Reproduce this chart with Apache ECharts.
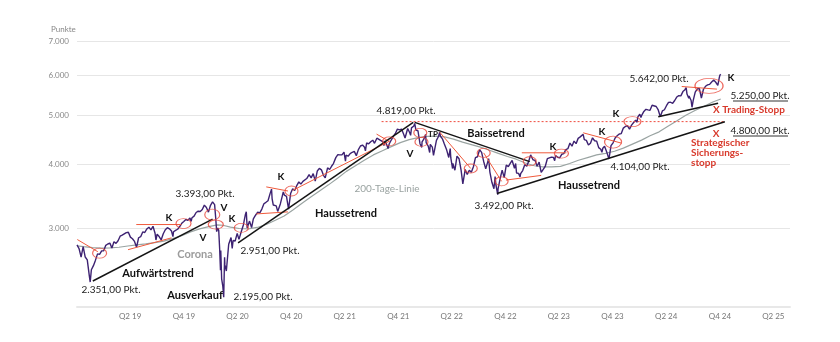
<!DOCTYPE html>
<html><head><meta charset="utf-8">
<script src="https://cdn.jsdelivr.net/npm/echarts@6/dist/echarts.min.js"></script>
<style>html,body{margin:0;padding:0;background:#fff}#c{width:840px;height:342px}</style>
</head><body><div id="c"></div>
<script>
// ---------- DATA ----------
const indexValues = [
["2018-11-09",2781],["2018-11-16",2736],["2018-11-23",2633],["2018-11-30",2760],["2018-12-07",2633],["2018-12-14",2600],["2018-12-21",2417],["2018-12-24",2351],["2018-12-28",2486],
["2019-01-04",2532],["2019-01-11",2596],["2019-01-18",2671],["2019-01-25",2665],["2019-02-01",2707],["2019-02-08",2708],["2019-02-15",2776],["2019-02-22",2793],["2019-03-01",2804],["2019-03-08",2743],["2019-03-15",2822],["2019-03-22",2801],["2019-03-29",2834],["2019-04-05",2893],["2019-04-12",2907],["2019-04-18",2905],["2019-04-26",2940],["2019-05-03",2946],["2019-05-10",2881],["2019-05-17",2860],["2019-05-24",2826],["2019-05-31",2752],["2019-06-03",2744],["2019-06-07",2873],["2019-06-14",2887],["2019-06-21",2950],["2019-06-28",2942],["2019-07-05",2990],["2019-07-12",3014],["2019-07-19",2977],["2019-07-26",3026],["2019-08-02",2932],["2019-08-05",2844],["2019-08-09",2919],["2019-08-16",2889],["2019-08-23",2847],["2019-08-30",2926],["2019-09-06",2979],["2019-09-13",3007],["2019-09-20",2992],["2019-09-27",2962],["2019-10-02",2887],["2019-10-04",2952],["2019-10-11",2970],["2019-10-18",2986],["2019-10-25",3023],["2019-11-01",3067],["2019-11-08",3093],["2019-11-15",3120],["2019-11-22",3110],["2019-11-29",3141],["2019-12-03",3093],["2019-12-06",3146],["2019-12-13",3169],["2019-12-20",3221],["2019-12-27",3240],
["2020-01-03",3235],["2020-01-10",3265],["2020-01-17",3330],["2020-01-24",3295],["2020-01-31",3226],["2020-02-07",3328],["2020-02-14",3380],["2020-02-19",3393],["2020-02-21",3338],["2020-02-25",3128],["2020-02-28",2954],["2020-03-03",3003],["2020-03-06",2972],["2020-03-09",2747],["2020-03-12",2481],["2020-03-13",2711],["2020-03-16",2386],["2020-03-18",2398],["2020-03-20",2305],["2020-03-23",2195],["2020-03-26",2630],["2020-03-27",2541],["2020-04-01",2471],["2020-04-03",2489],["2020-04-09",2790],["2020-04-17",2875],["2020-04-21",2737],["2020-04-24",2837],["2020-05-01",2831],["2020-05-08",2930],["2020-05-14",2852],["2020-05-22",2955],["2020-05-29",3044],["2020-06-05",3194],["2020-06-08",3232],["2020-06-11",3002],["2020-06-19",3098],["2020-06-26",3009],["2020-07-02",3130],["2020-07-10",3185],["2020-07-17",3224],["2020-07-24",3216],["2020-07-31",3271],["2020-08-07",3351],["2020-08-14",3373],["2020-08-21",3397],["2020-08-28",3508],["2020-09-02",3580],["2020-09-04",3427],["2020-09-08",3332],["2020-09-11",3341],["2020-09-18",3319],["2020-09-23",3237],["2020-10-02",3348],["2020-10-09",3477],["2020-10-12",3534],["2020-10-16",3484],["2020-10-23",3465],["2020-10-30",3270],["2020-11-06",3509],["2020-11-13",3585],["2020-11-20",3557],["2020-11-27",3638],["2020-12-04",3699],["2020-12-11",3663],["2020-12-18",3709],["2020-12-24",3703],["2020-12-31",3756],
["2021-01-08",3825],["2021-01-15",3768],["2021-01-22",3841],["2021-01-29",3714],["2021-02-05",3887],["2021-02-12",3934],["2021-02-19",3907],["2021-02-26",3811],["2021-03-04",3768],["2021-03-12",3943],["2021-03-19",3913],["2021-03-26",3975],["2021-04-01",4020],["2021-04-09",4129],["2021-04-16",4185],["2021-04-23",4180],["2021-04-30",4181],["2021-05-07",4233],["2021-05-12",4063],["2021-05-14",4174],["2021-05-21",4156],["2021-05-28",4204],["2021-06-04",4230],["2021-06-11",4247],["2021-06-18",4166],["2021-06-25",4281],["2021-07-02",4352],["2021-07-09",4370],["2021-07-16",4327],["2021-07-19",4258],["2021-07-23",4412],["2021-07-30",4395],["2021-08-06",4437],["2021-08-13",4468],["2021-08-19",4406],["2021-08-27",4509],["2021-09-02",4537],["2021-09-10",4459],["2021-09-17",4433],["2021-09-20",4358],["2021-09-24",4455],["2021-10-01",4357],["2021-10-04",4300],["2021-10-08",4391],["2021-10-15",4471],["2021-10-22",4545],["2021-10-29",4605],["2021-11-05",4697],["2021-11-12",4683],["2021-11-19",4698],["2021-11-26",4595],["2021-11-30",4567],["2021-12-01",4513],["2021-12-03",4538],["2021-12-10",4712],["2021-12-17",4620],["2021-12-20",4568],["2021-12-23",4725],["2021-12-31",4766],
["2022-01-03",4819],["2022-01-07",4677],["2022-01-14",4663],["2022-01-21",4398],["2022-01-24",4410],["2022-01-27",4326],["2022-01-28",4432],["2022-02-04",4500],["2022-02-09",4587],["2022-02-11",4418],["2022-02-18",4349],["2022-02-23",4225],["2022-02-25",4385],["2022-03-04",4329],["2022-03-08",4170],["2022-03-11",4204],["2022-03-18",4463],["2022-03-25",4543],["2022-03-29",4632],["2022-04-01",4546],["2022-04-08",4488],["2022-04-14",4393],["2022-04-22",4272],["2022-04-29",4132],["2022-05-04",4300],["2022-05-06",4123],["2022-05-12",3930],["2022-05-13",4023],["2022-05-20",3901],["2022-05-27",4158],["2022-06-03",4109],["2022-06-10",3901],["2022-06-16",3667],["2022-06-24",3912],["2022-07-01",3825],["2022-07-08",3899],["2022-07-15",3863],["2022-07-22",3962],["2022-07-29",4130],["2022-08-05",4145],["2022-08-12",4280],["2022-08-16",4305],["2022-08-19",4228],["2022-08-26",4058],["2022-09-02",3924],["2022-09-06",3909],["2022-09-12",4110],["2022-09-16",3873],["2022-09-23",3693],["2022-09-30",3586],["2022-10-04",3791],["2022-10-07",3640],["2022-10-13",3492],["2022-10-14",3583],["2022-10-21",3752],["2022-10-28",3901],["2022-11-04",3771],["2022-11-11",3993],["2022-11-18",3965],["2022-11-25",4026],["2022-12-01",4077],["2022-12-09",3934],["2022-12-13",4020],["2022-12-16",3852],["2022-12-23",3845],["2022-12-28",3783],["2022-12-30",3840],
["2023-01-06",3895],["2023-01-13",3999],["2023-01-20",3973],["2023-01-27",4071],["2023-02-02",4180],["2023-02-10",4090],["2023-02-17",4079],["2023-02-24",3970],["2023-03-03",4046],["2023-03-10",3862],["2023-03-13",3856],["2023-03-17",3917],["2023-03-24",3971],["2023-03-31",4109],["2023-04-06",4105],["2023-04-14",4138],["2023-04-21",4133],["2023-04-25",4071],["2023-04-28",4169],["2023-05-05",4136],["2023-05-12",4124],["2023-05-19",4192],["2023-05-26",4205],["2023-06-02",4282],["2023-06-09",4299],["2023-06-16",4410],["2023-06-23",4348],["2023-06-30",4450],["2023-07-07",4399],["2023-07-14",4505],["2023-07-21",4536],["2023-07-31",4589],["2023-08-04",4478],["2023-08-11",4464],["2023-08-18",4370],["2023-08-25",4406],["2023-09-01",4516],["2023-09-08",4457],["2023-09-15",4450],["2023-09-22",4320],["2023-09-29",4288],["2023-10-03",4229],["2023-10-06",4308],["2023-10-12",4349],["2023-10-20",4224],["2023-10-27",4104],["2023-11-03",4358],["2023-11-10",4415],["2023-11-17",4514],["2023-11-24",4559],["2023-12-01",4595],["2023-12-08",4604],["2023-12-15",4719],["2023-12-22",4755],["2023-12-29",4770],
["2024-01-05",4697],["2024-01-12",4784],["2024-01-19",4840],["2024-01-26",4891],["2024-01-31",4846],["2024-02-02",4959],["2024-02-09",5027],["2024-02-13",4953],["2024-02-16",5006],["2024-02-23",5089],["2024-03-01",5137],["2024-03-08",5124],["2024-03-15",5117],["2024-03-22",5234],["2024-03-28",5254],["2024-04-05",5204],["2024-04-12",5123],["2024-04-19",4967],["2024-04-26",5100],["2024-05-03",5128],["2024-05-10",5223],["2024-05-17",5303],["2024-05-24",5305],["2024-05-31",5278],["2024-06-07",5347],["2024-06-14",5432],["2024-06-21",5465],["2024-06-28",5460],["2024-07-05",5567],["2024-07-12",5615],["2024-07-16",5667],["2024-07-19",5505],["2024-07-25",5400],["2024-07-26",5459],["2024-08-02",5347],["2024-08-05",5186],["2024-08-09",5344],["2024-08-16",5554],["2024-08-23",5634],["2024-08-30",5648],["2024-09-06",5408],["2024-09-13",5626],["2024-09-20",5703],["2024-09-27",5738],["2024-10-04",5751],["2024-10-11",5815],["2024-10-18",5865],["2024-10-25",5808],["2024-11-01",5729],["2024-11-06",5929],["2024-11-08",5995],["2024-11-11",6020]
];

const movingAverage200 = [
["2018-11-09",2770],["2018-12-01",2760],["2019-01-01",2748],["2019-02-01",2742],["2019-03-01",2745],["2019-04-01",2752],["2019-05-01",2768],["2019-06-01",2782],["2019-07-01",2795],["2019-08-01",2810],["2019-09-01",2830],["2019-10-01",2862],["2019-11-01",2900],["2019-12-01",2950],
["2020-01-01",2990],["2020-02-01",3022],["2020-03-01",3045],["2020-03-20",3040],["2020-04-15",3015],["2020-05-15",2996],["2020-06-15",2990],["2020-07-15",3010],["2020-08-15",3050],["2020-09-15",3110],["2020-10-15",3170],["2020-11-15",3260],["2020-12-15",3360],
["2021-01-15",3460],["2021-02-15",3560],["2021-03-15",3650],["2021-04-15",3760],["2021-05-15",3880],["2021-06-15",3980],["2021-07-15",4080],["2021-08-15",4180],["2021-09-15",4260],["2021-10-15",4340],["2021-11-15",4420],["2021-12-15",4480],
["2022-01-15",4520],["2022-02-15",4545],["2022-03-15",4550],["2022-04-15",4535],["2022-05-15",4490],["2022-06-15",4430],["2022-07-15",4380],["2022-08-15",4330],["2022-09-15",4270],["2022-10-15",4210],["2022-11-15",4150],["2022-12-15",4100],
["2023-01-15",4030],["2023-02-15",3980],["2023-03-15",3960],["2023-04-15",3960],["2023-05-15",3970],["2023-06-15",4020],["2023-07-15",4080],["2023-08-15",4130],["2023-09-15",4180],["2023-10-15",4210],["2023-11-15",4250],["2023-12-15",4310],
["2024-01-15",4390],["2024-02-15",4470],["2024-03-15",4560],["2024-04-15",4640],["2024-05-15",4760],["2024-06-15",4880],["2024-07-15",5000],["2024-08-15",5110],["2024-09-15",5210],["2024-10-15",5310],["2024-11-11",5385]
];

const quarterTickDates = ["2019-04-01","2019-10-01","2020-04-01","2020-10-01","2021-04-01","2021-10-01","2022-04-01","2022-10-01","2023-04-01","2023-10-01","2024-04-01","2024-10-01","2025-04-01"];
const quarterTickLabels = ["Q2 19","Q4 19","Q2 20","Q4 20","Q2 21","Q4 21","Q2 22","Q4 22","Q2 23","Q4 23","Q2 24","Q4 24","Q2 25"];
const yTickValues = [3000,4000,5000,6000,7000];
const axisRange = ["2018-11-09","2025-07-05"];

const blackTrendLines = [
[["2019-01-02",2362],["2020-02-14",3125]],
[["2020-05-11",2807],["2021-12-29",4843]],
[["2022-01-03",4843],["2023-01-30",4055]],
[["2022-10-10",3511],["2024-11-25",4857]],
[["2024-04-12",4968],["2024-11-02",5282]]
];
const redSignalLines = [
[["2018-11-10",2850],["2019-01-19",2697]],
[["2019-05-30",3050],["2019-10-31",3050]],
[["2019-05-02",2722],["2019-09-27",2872]],
[["2020-07-12",3200],["2020-10-28",3230]],
[["2020-08-15",3617],["2020-10-28",3550]],
[["2020-11-13",3560],["2021-10-11",4454]],
[["2021-08-26",4593],["2021-10-08",4445]],
[["2022-03-29",4634],["2022-07-13",3931]],
[["2022-08-26",4218],["2022-10-26",3709]],
[["2022-11-10",3730],["2023-03-10",3810]],
[["2023-01-03",4220],["2023-06-04",4220]],
[["2023-07-31",4620],["2023-12-09",4408]],
[["2024-07-01",5697],["2024-10-29",5630]]
];
const previousHighLine = [["2021-09-12",4860],["2024-11-25",4860]];
const signalCircles = [
["2019-01-25",2679],["2019-11-07",3064],["2020-02-13",3190],["2020-02-25",3050],["2020-05-22",3004],["2020-11-09",3550],["2021-10-08",4445],["2022-01-22",4619],["2022-01-26",4434],["2022-07-13",3931],["2022-08-26",4218],["2022-10-26",3709],["2023-01-30",4062],["2023-05-18",4206],["2023-11-10",4430],["2024-01-15",4860],["2024-10-02",5713]
];

// ---------- STYLE / LAYOUT ----------
const circleSizes = [[14,10],[15,10],[15,11],[15,9],[14,9],[13,10],[13,9],[13,9],[13,9],[13,9],[13,9],[13,9],[13,9],[14,9],[17,12],[17,10],[28,15]];
const FONT = 'Lato, "Noto Sans", sans-serif';
const textStyles = {
  pkt:  {font:'10px ' + FONT, fill:'#222'},
  bold: {font:'bold 11px ' + FONT, fill:'#111'},
  k:    {font:'bold 10px ' + FONT, fill:'#111'},
  tp:   {font:'bold 8px ' + FONT, fill:'#111'},
  gray: {font:'bold 11px ' + FONT, fill:'#9c9c9c'},
  grayR:{font:'10px ' + FONT, fill:'#9aa3a1'},
  red:  {font:'bold 10px ' + FONT, fill:'#d8392b'}
};
const annotationTexts = [
  ['3.393,00 Pkt.',205,194,'pkt'],['2.351,00 Pkt.',111,290,'pkt'],['Aufwärtstrend',158,273,'bold'],
  ['Ausverkauf',195,295,'bold'],['Corona',195,254,'gray'],['2.195,00 Pkt.',263,297,'pkt'],
  ['2.951,00 Pkt.',270,251,'pkt'],['K',169,218,'k'],['V',224,208,'k'],['V',203,238,'k'],['K',232,219,'k'],
  ['K',281,177,'k'],['Haussetrend',346,213,'bold'],['200-Tage-Linie',387,189,'grayR'],
  ['4.819,00 Pkt.',406,111,'pkt'],['V',410,154,'k'],['TP',433,134,'tp'],['Baissetrend',496,133,'bold'],
  ['3.492,00 Pkt.',504,206,'pkt'],['K',553,147,'k'],['Haussetrend',589,185,'bold'],['4.104,00 Pkt.',640,167,'pkt'],
  ['K',602,132,'k'],['K',616,114,'k'],['5.642,00 Pkt.',659,79,'pkt'],['K',731,78,'k'],
  ['5.250,00 Pkt.',760,96,'pkt'],['X Trading-Stopp',749,110,'red'],['4.800,00 Pkt.',760,131,'pkt'],['X',716,134,'red']
];
const leftTexts = [['Strategischer',691,143],['Sicherungs-',691,153],['stopp',691,163]];

// ---------- BUILD ----------
const ts = s => echarts.time.parse(s).getTime();
const toXY = arr => arr.map(([d, v]) => [ts(d), v]);
const tickTs = quarterTickDates.map(ts);
const fmtDE = v => String(Math.round(v)).replace(/\B(?=(\d{3})+(?!\d))/g, '.');

const chart = echarts.init(document.getElementById('c'), null, {renderer:'canvas'});

const series = [];
series.push({type:'line', data:toXY(movingAverage200), showSymbol:false, symbol:'none',
  lineStyle:{color:'#9aa4a2', width:1.2}, silent:true, z:2});
series.push({type:'line', data:toXY(indexValues), showSymbol:false, symbol:'none',
  lineStyle:{color:'#3d2272', width:1.4}, silent:true, z:3});
redSignalLines.forEach(seg => series.push({type:'line', data:toXY(seg), showSymbol:false, symbol:'none',
  lineStyle:{color:'#f05a3c', width:1}, silent:true, z:4}));
series.push({type:'line', data:toXY(previousHighLine), showSymbol:false, symbol:'none',
  lineStyle:{color:'#ef4b3c', width:1, type:[2,2]}, silent:true, z:4});
blackTrendLines.forEach(seg => series.push({type:'line', data:toXY(seg), showSymbol:false, symbol:'none',
  lineStyle:{color:'#141414', width:1.5}, silent:true, z:5}));
series.push({type:'scatter', data:toXY(signalCircles), symbol:'circle',
  symbolSize:(v,p)=>circleSizes[p.dataIndex],
  itemStyle:{color:'rgba(0,0,0,0)', borderColor:'#e8463a', borderWidth:1}, silent:true, z:6});

const graphic = [{type:'text', x:51, y:29, style:{text:'Punkte', font:'8px ' + FONT, fill:'#888', align:'left', verticalAlign:'middle'}}];
annotationTexts.forEach(([t,x,y,k]) => graphic.push({type:'text', x, y, z:10,
  style:Object.assign({text:t, align:'center', verticalAlign:'middle'}, textStyles[k])}));
leftTexts.forEach(([t,x,y]) => graphic.push({type:'text', x, y, z:10,
  style:Object.assign({text:t, align:'left', verticalAlign:'middle'}, textStyles.red)}));
[[733,788,101],[733,788,136]].forEach(([a,b,y]) => graphic.push({type:'line', z:10,
  shape:{x1:a,y1:y,x2:b,y2:y}, style:{stroke:'#333', lineWidth:1}}));

chart.setOption({
  animation:false,
  backgroundColor:'#fff',
  grid:{left:77, right:50, top:41, bottom:35, containLabel:false},
  xAxis:{type:'value', min:ts(axisRange[0]), max:ts(axisRange[1]),
    axisLine:{show:true, lineStyle:{color:'#e8e8e8', width:2}},
    axisTick:{show:false, customValues:tickTs}, splitLine:{show:false},
    axisLabel:{customValues:tickTs, align:'left', margin:5, color:'#777', fontSize:8, fontFamily:FONT,
      formatter:v => { const i = tickTs.findIndex(t => Math.abs(t - v) < 864e5); return i >= 0 ? quarterTickLabels[i] : ''; }}},
  yAxis:{type:'log', logBase:10, min:2100, max:7000,
    axisLine:{show:false}, axisTick:{show:false, customValues:yTickValues},
    axisLabel:{customValues:yTickValues, margin:8, color:'#888', fontSize:8, fontFamily:FONT, formatter:v => fmtDE(v)},
    splitLine:{show:true, lineStyle:{color:'#e6e6e6', width:1}}},
  series,
  graphic
});
</script></body></html>
